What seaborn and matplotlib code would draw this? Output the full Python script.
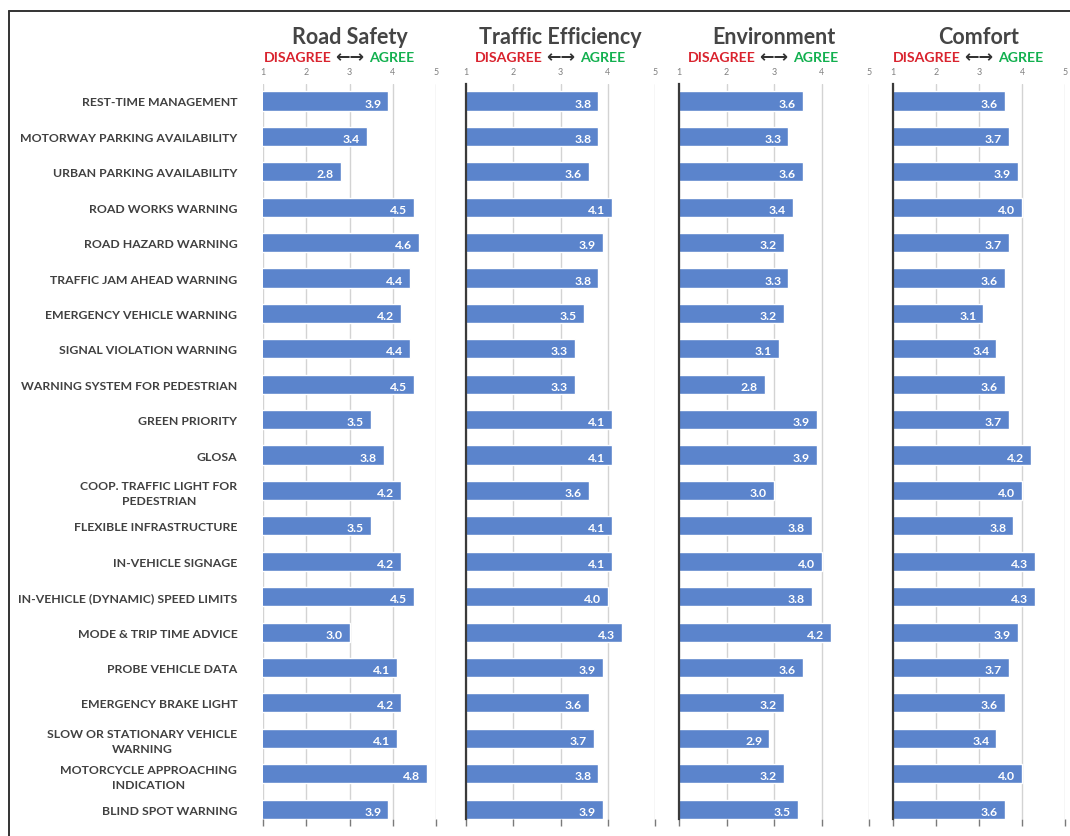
import matplotlib
matplotlib.use("Agg")
import matplotlib.pyplot as plt
import matplotlib.transforms as mtransforms
from matplotlib.lines import Line2D
import seaborn as sns
import pandas as pd

categories = [
    "REST-TIME MANAGEMENT",
    "MOTORWAY PARKING AVAILABILITY",
    "URBAN PARKING AVAILABILITY",
    "ROAD WORKS WARNING",
    "ROAD HAZARD WARNING",
    "TRAFFIC JAM AHEAD WARNING",
    "EMERGENCY VEHICLE WARNING",
    "SIGNAL VIOLATION WARNING",
    "WARNING SYSTEM FOR PEDESTRIAN",
    "GREEN PRIORITY",
    "GLOSA",
    "COOP. TRAFFIC LIGHT FOR\nPEDESTRIAN",
    "FLEXIBLE INFRASTRUCTURE",
    "IN-VEHICLE SIGNAGE",
    "IN-VEHICLE (DYNAMIC) SPEED LIMITS",
    "MODE & TRIP TIME ADVICE",
    "PROBE VEHICLE DATA",
    "EMERGENCY BRAKE LIGHT",
    "SLOW OR STATIONARY VEHICLE\nWARNING",
    "MOTORCYCLE APPROACHING\nINDICATION",
    "BLIND SPOT WARNING",
]

road_safety = [3.9, 3.4, 2.8, 4.5, 4.6, 4.4, 4.2, 4.4, 4.5, 3.5, 3.8,
               4.2, 3.5, 4.2, 4.5, 3.0, 4.1, 4.2, 4.1, 4.8, 3.9]
traffic_efficiency = [3.8, 3.8, 3.6, 4.1, 3.9, 3.8, 3.5, 3.3, 3.3, 4.1, 4.1,
                      3.6, 4.1, 4.1, 4.0, 4.3, 3.9, 3.6, 3.7, 3.8, 3.9]
environment = [3.6, 3.3, 3.6, 3.4, 3.2, 3.3, 3.2, 3.1, 2.8, 3.9, 3.9,
               3.0, 3.8, 4.0, 3.8, 4.2, 3.6, 3.2, 2.9, 3.2, 3.5]
comfort = [3.6, 3.7, 3.9, 4.0, 3.7, 3.6, 3.1, 3.4, 3.6, 3.7, 4.2,
           4.0, 3.8, 4.3, 4.3, 3.9, 3.7, 3.6, 3.4, 4.0, 3.6]

panel_titles = ["Road Safety", "Traffic Efficiency", "Environment", "Comfort"]
scale_ticks = [1, 2, 3, 4, 5]

sns.set_theme(style="white")
plt.rcParams["font.family"] = ["Lato", "DejaVu Sans"]

W, H = 1070, 837
fig = plt.figure(figsize=(W / 100, H / 100), dpi=100)

panel_px = [(263, 436), (466, 655), (679, 869), (893, 1065)]
top_px, bottom_px = 85, 820

BAR = "#5B84CC"
TXT = "#404040"
series = [road_safety, traffic_efficiency, environment, comfort]

for i, (vals, title, (x0, x1)) in enumerate(zip(series, panel_titles, panel_px)):
    ax = fig.add_axes([x0 / W, 1 - bottom_px / H, (x1 - x0) / W, (bottom_px - top_px) / H])
    df = pd.DataFrame({"item": categories, "score": vals})
    sns.barplot(data=df, x="score", y="item", orient="h", color=BAR,
                saturation=1, width=0.54, ax=ax, zorder=3)
    ax.set_xlim(1, 5)
    ax.set_ylim(20.28, -0.48)
    ax.set_xticks(scale_ticks)
    ax.set_xticklabels([str(t) for t in scale_ticks])
    ax.set_xlabel("")
    ax.set_ylabel("")
    ax.grid(axis="x", color="#d3d3d3", lw=1.0, zorder=0)
    ax.grid(axis="y", visible=False)
    ax.tick_params(axis="x", bottom=True, top=False, labelbottom=False, labeltop=True,
                   direction="out", length=5, width=1.0, color="#7a7a7a",
                   labelsize=6.4, labelcolor="#7f7f7f", pad=1.0)
    for s in ["top", "right", "bottom"]:
        ax.spines[s].set_visible(False)
    if i == 0:
        ax.spines["left"].set_visible(False)
        ax.tick_params(axis="y", left=False, length=0, pad=18.5,
                       labelsize=8.8, labelcolor=TXT)
        for lbl in ax.get_yticklabels():
            lbl.set_fontweight("bold")
            lbl.set_multialignment("center")
            lbl.set_linespacing(1.45)
    else:
        ax.spines["left"].set_visible(True)
        ax.spines["left"].set_color("#3a3a3a")
        ax.spines["left"].set_linewidth(1.6)
        ax.spines["left"].set_zorder(4)
        ax.tick_params(axis="y", left=False, labelleft=False)

    for p in ax.patches:
        w = p.get_width()
        ax.annotate(f"{w:.1f}", (w, p.get_y() + p.get_height() / 2),
                    xytext=(-5, -1.5), textcoords="offset points",
                    ha="right", va="center", color="white",
                    fontsize=8.8, fontweight="bold", zorder=5)

    trans = mtransforms.blended_transform_factory(ax.transAxes, fig.transFigure)
    ax.text(0.5, 1 - 37 / H, title, transform=trans, ha="center", va="center",
            fontsize=15.5, fontweight="bold", color="#454545")
    ysub = 1 - 57.5 / H
    ax.annotate("\u2190\u2192", (0.5, ysub), xycoords=trans, ha="center", va="center",
                fontsize=12.5, fontweight="bold", color="#333333",
                family=["DejaVu Sans"])
    ax.annotate("DISAGREE", (0.5, ysub), xycoords=trans, xytext=(-13, 0),
                textcoords="offset points", ha="right", va="center",
                fontsize=10.2, fontweight="bold", color="#D9232E")
    ax.annotate("AGREE", (0.5, ysub), xycoords=trans, xytext=(14, 0),
                textcoords="offset points", ha="left", va="center",
                fontsize=10.2, fontweight="bold", color="#12B04F")

# outer frame lines of the original figure
fig.add_artist(Line2D([9 / W, 9 / W], [0, 1 - 12 / H], transform=fig.transFigure,
                      color="#333333", lw=1.4))
fig.add_artist(Line2D([9 / W, 1], [1 - 12 / H, 1 - 12 / H], transform=fig.transFigure,
                      color="#333333", lw=1.4))

fig.savefig("out.png", dpi=100, facecolor="white")
